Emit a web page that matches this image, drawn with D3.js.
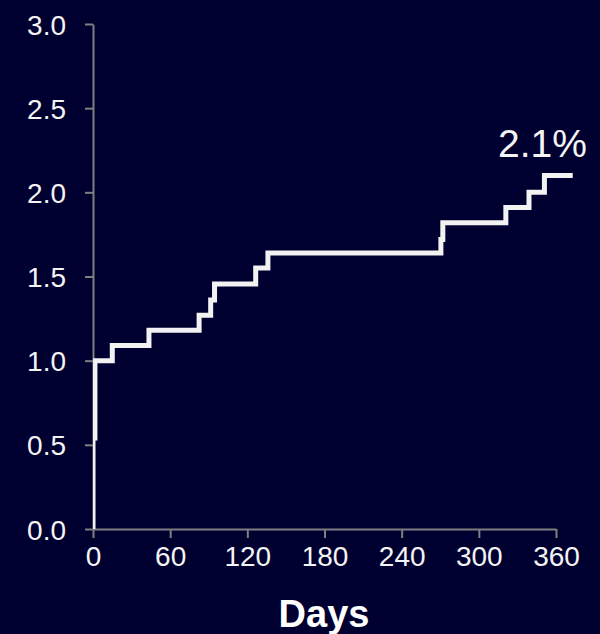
<!DOCTYPE html>
<html>
<head>
<meta charset="utf-8">
<script src="https://cdn.jsdelivr.net/npm/d3@7"></script>
<style>
  html, body { margin: 0; padding: 0; background: #000030; }
  svg { display: block; }
</style>
</head>
<body>
<svg id="chart" width="600" height="634"></svg>
<script>
// Data: cumulative event rate (%) over days (step function)
const days   = [0, 0,    1.5, 15,   43.5, 82.5, 91.5, 94.5,  126.5, 136,  270.5, 272, 321,  339,  351,  373];
const values = [0, 0.54, 1.0, 1.09, 1.18, 1.27, 1.36, 1.455, 1.55,  1.64, 1.72,  1.82, 1.91, 2.0,  2.1,  2.1];
const xTicks = [0, 60, 120, 180, 240, 300, 360];
const yTicks = [0, 0.5, 1.0, 1.5, 2.0, 2.5, 3.0];
const endLabel = "2.1%";
const xTitle = "Days";

(function () {
const svg = d3.select("#chart");
const mLeft = 93, mRight = 556, mTop = 24, mBottom = 529;

const x = d3.scaleLinear().domain([0, 360]).range([mLeft, mRight]);
const y = d3.scaleLinear().domain([0, 3]).range([mBottom, mTop]);

svg.append("rect").attr("width", 600).attr("height", 634).attr("fill", "#000030");

// Axes
const yAxis = d3.axisLeft(y).tickValues(yTicks).tickFormat(d3.format(".1f")).tickSize(8).tickSizeOuter(0).tickPadding(19);
const xAxis = d3.axisBottom(x).tickValues(xTicks).tickFormat(d3.format("d")).tickSize(9).tickSizeOuter(0).tickPadding(8);

const gy = svg.append("g").attr("transform", `translate(${mLeft},0)`).call(yAxis);
const gx = svg.append("g").attr("transform", `translate(0,${mBottom})`).call(xAxis);

[gx, gy].forEach(g => {
  g.select(".domain").attr("stroke", "#7f7f7f").attr("stroke-width", 2);
  g.selectAll(".tick line").attr("stroke", "#7f7f7f").attr("stroke-width", 2);
  g.selectAll(".tick text")
    .attr("fill", "#f4f4f4")
    .attr("font-family", "'Liberation Sans', Arial, sans-serif")
    .attr("font-size", 28);
});
gy.selectAll(".tick text").attr("dy", "0.36em");
gx.selectAll(".tick text").attr("dy", "0.73em");

// Clip on the left at the y axis
svg.append("clipPath").attr("id", "clip")
  .append("rect").attr("x", mLeft).attr("y", 0).attr("width", 600 - mLeft).attr("height", mBottom + 2);

const pts = days.map((d, i) => [d, values[i]]);
const line = d3.line().x(d => x(d[0])).y(d => y(d[1])).curve(d3.curveStepAfter);

svg.append("path")
  .datum(pts)
  .attr("clip-path", "url(#clip)")
  .attr("d", line)
  .attr("fill", "none")
  .attr("stroke", "#f2f2f2")
  .attr("stroke-width", 5)
  .attr("stroke-linejoin", "miter");

// End label
svg.append("text")
  .attr("x", 587).attr("y", 157)
  .attr("text-anchor", "end")
  .attr("fill", "#f4f4f4")
  .attr("font-family", "'Liberation Sans', Arial, sans-serif")
  .attr("font-size", 39)
  .text(endLabel);

// X title
svg.append("text")
  .attr("x", 324).attr("y", 627)
  .attr("text-anchor", "middle")
  .attr("fill", "#ffffff")
  .attr("font-family", "'Liberation Sans', Arial, sans-serif")
  .attr("font-weight", "bold")
  .attr("font-size", 38)
  .text(xTitle);
})();
</script>
</body>
</html>
